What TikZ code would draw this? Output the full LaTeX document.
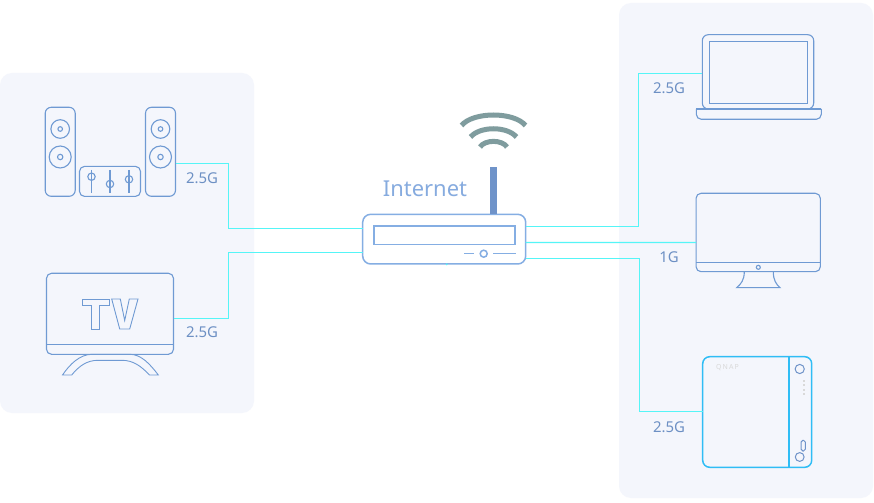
\documentclass[tikz,border=0pt]{standalone}
\usepackage{fontspec}
\setmainfont{Noto Sans}
\definecolor{panelc}{HTML}{F4F6FC}
\definecolor{linec}{HTML}{6F9AD3}
\definecolor{linkc}{HTML}{55F5F7}
\definecolor{labelc}{HTML}{6D90C4}
\definecolor{netc}{HTML}{86ABDF}
\definecolor{wific}{HTML}{7F9C9E}
\definecolor{antc}{HTML}{6F93C9}
\definecolor{nasc}{HTML}{2FBDF5}
\definecolor{routerc}{HTML}{85AEE3}
\tikzset{
  panel/.style={fill=panelc,draw=none,rounded corners=12bp},
  devicebox/.style={draw=linec,line width=1.1bp,inner sep=0pt,outer sep=0pt,rectangle},
  detail/.style={draw=linec,line width=1.1bp},
  link/.style={draw=linkc,line width=1.25bp},
  speedlabel/.style={text=labelc,font=\fontsize{15}{18}\selectfont,anchor=base,inner sep=0pt},
  wave/.style={draw=wific,line width=5bp}
}
\begin{document}
\begin{tikzpicture}[x=1bp,y=-1bp]
\useasboundingbox (0,0) rectangle (874,503);
\fill[white] (0,0) rectangle (874,503);
% panels
\path[panel] (0,73) rectangle (254,413);
\path[panel] (619,3) rectangle (873,498);
% main device outlines
\node[devicebox,rounded corners=6bp,minimum width=30bp,minimum height=89bp] (spkL) at (60.2,151.8) {};
\node[devicebox,rounded corners=6bp,minimum width=30bp,minimum height=89bp] (spkR) at (160.5,151.8) {};
\node[devicebox,rounded corners=5bp,minimum width=61bp,minimum height=30bp] (mixer) at (110,181.4) {};
\node[devicebox,rounded corners=5bp,minimum width=127bp,minimum height=81bp] (tv) at (110,313.8) {};
\node[devicebox,draw=routerc,line width=1.5bp,rounded corners=8bp,minimum width=163bp,minimum height=49.7bp] (router) at (444.2,239.15) {};
\node[devicebox,rounded corners=6bp,minimum width=111.4bp,minimum height=74.3bp] (laptop) at (758,71.85) {};
\node[devicebox,rounded corners=5bp,minimum width=124.3bp,minimum height=78.4bp] (monitor) at (758.2,232.5) {};
\node[devicebox,draw=nasc,line width=1.5bp,rounded corners=7bp,minimum width=109bp,minimum height=110.6bp] (nas) at (757.2,412) {};
% bends
\coordinate (bendA) at (228.5,200);
\coordinate (bendB) at (228.5,290);
\coordinate (bendC) at (638.5,150);
\coordinate (bendD) at (639.5,340);
% connectors
\draw[link] ([yshift=-11.7bp]spkR.east) -| (bendA) |- ([yshift=10.65bp]router.west);
\draw[link] ([yshift=-4.7bp]tv.east) -| (bendB) |- ([yshift=-13.35bp]router.west);
\draw[link] ([yshift=12.65bp]router.east) -| (bendC) |- ([yshift=-1.65bp]laptop.west);
\draw[link] ([yshift=-3.35bp]router.east) -- ([yshift=-10bp]monitor.west);
\draw[link] ([yshift=-19.35bp]router.east) -| (bendD) |- ([yshift=0.5bp]nas.west);
\fill[linkc] (446.7,264.3) circle[radius=1];
% speakers
\foreach \cx in {60.2,160.5}{
  \draw[detail] (\cx,129) circle[radius=9.3];
  \draw[detail] (\cx,129) circle[radius=2.3];
  \draw[detail] (\cx,157) circle[radius=11];
  \draw[detail] (\cx,157) circle[radius=2.7];
}
% mixer
\foreach \cx/\cy in {91.5/176.7,110/184,129/179.3}{
  \draw[detail] (\cx,170) -- (\cx,193);
  \draw[detail] (\cx,\cy) circle[radius=3.7];
}
% tv
\draw[detail] (tv.west |- 0,344.7) -- (tv.east |- 0,344.7);
\draw[detail,line width=.9bp,line join=miter] (82,299) -- (109,299) -- (109,305.7) -- (99.7,305.7) -- (99.7,329) -- (91.7,329) -- (91.7,305.7) -- (82,305.7) -- cycle;
\draw[detail,line width=.9bp,line join=miter] (111.7,299) -- (120.3,299) -- (124.7,320.5) -- (129.3,299) -- (138,299) -- (129.7,329) -- (119.7,329) -- cycle;
\draw[detail,line width=.9bp] (62.5,375) .. controls (70,364) and (80,354.3) .. (92,354.3) -- (130,354.3) .. controls (141,354.3) and (150,364) .. (158.3,375) -- (149.5,375) .. controls (141,366) and (133,360.3) .. (122,360.3) -- (98,360.3) .. controls (87,360.3) and (79,366) .. (71.7,375) -- cycle;
% router
\draw[detail,draw=routerc,line width=1.5bp] (374,226) rectangle (515,244.3);
\draw[detail,draw=routerc,line width=1.5bp] (464,253.7) -- (474,253.7);
\draw[detail,draw=routerc,line width=1.5bp] (483.7,253.7) circle[radius=3.5];
\draw[detail,draw=routerc,line width=1.5bp] (493.3,253.7) -- (515.7,253.7);
% antenna and waves
\fill[antc] (490,166.7) rectangle (496.7,213.7);
\draw[wave] (461.5,125.5) .. controls (473,111.5) and (514,111.5) .. (525.5,125.5);
\draw[wave] (470.5,137) .. controls (480,126) and (507,126) .. (516.5,137);
\draw[wave] (480,147) .. controls (485,139.5) and (502,139.5) .. (507,147);
\node[text=netc,font=\fontsize{22}{26}\selectfont,anchor=base,inner sep=0pt] (nettext) at (425,196.7) {Internet};
% laptop
\draw[detail] (709.3,41.3) rectangle (807.7,103.7);
\draw[detail,rounded corners=5bp] (696.3,109) -- (696.3,119.3) -- (821.3,119.3) -- (821.3,109);
\draw[detail] (696.3,109) -- (821.3,109);
% monitor
\draw[detail] (monitor.west |- 0,262.3) -- (monitor.east |- 0,262.3);
\draw[detail] (758.3,267.3) circle[radius=2];
\draw[detail] (744.3,271.7) .. controls (744.3,280) and (741,284) .. (736.7,287.7) -- (780,287.7) .. controls (776,284) and (773.3,280) .. (773.3,271.7);
% nas
\draw[draw=nasc,line width=1.5bp] (nas.north -| 789,0) -- (nas.south -| 789,0);
\draw[draw=antc,line width=1bp] (799.7,369) circle[radius=4.6];
\draw[draw=antc,line width=1bp] (799.7,457) circle[radius=4.4];
\draw[draw=antc,line width=1bp,rounded corners=1.8bp] (801,440.3) rectangle (805.3,451);
\foreach \dy in {381,385.3,389.7,394}{
  \fill[white!85!black] (802.8,\dy-1) rectangle (804.6,\dy+1);
}
\node[text=white!85!black,font=\fontsize{7}{8}\selectfont\bfseries,anchor=center,inner sep=0pt] (brand) at (727.5,368) {Q\,N\,A\,P};
% labels
\node[speedlabel] (lblSpk) at (202,183.5) {2.5G};
\node[speedlabel] (lblTv) at (202,337.7) {2.5G};
\node[speedlabel] (lblLap) at (669,93.7) {2.5G};
\node[speedlabel] (lblMon) at (669,263) {1G};
\node[speedlabel] (lblNas) at (669,432) {2.5G};
\end{tikzpicture}
\end{document}
